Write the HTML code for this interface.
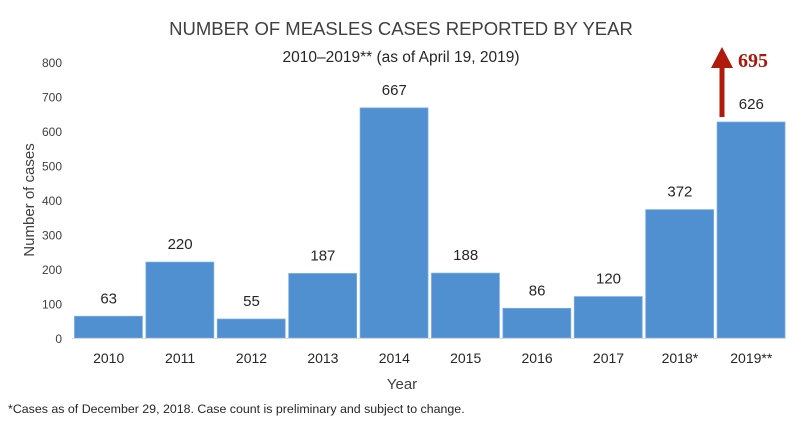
<!DOCTYPE html>
<html><head><meta charset="utf-8"><style>
body{margin:0;background:#fff;}
svg text{font-family:"Liberation Sans",sans-serif;}
</style></head><body>
<svg id="chart" width="802" height="421" viewBox="0 0 802 421" xmlns="http://www.w3.org/2000/svg">
<text x="401" y="35" text-anchor="middle" font-size="18.5" fill="#404040">NUMBER OF MEASLES CASES REPORTED BY YEAR</text>
<text x="401" y="62" text-anchor="middle" font-size="15.5" fill="#262626">2010–2019** (as of April 19, 2019)</text>
<text transform="translate(34,200) rotate(-90)" text-anchor="middle" font-size="15" fill="#404040">Number of cases</text>
<text x="402" y="389" text-anchor="middle" font-size="15" fill="#404040">Year</text>
<text x="8" y="413" font-size="12.4" fill="#262626">*Cases as of December 29, 2018. Case count is preliminary and subject to change.</text>
<g id="yticks"></g><g id="bars"></g><g id="xlabels"></g>
<line x1="72" y1="338.5" x2="786" y2="338.5" stroke="#d9d9d9" stroke-width="1"/>
<g>
<line x1="722" y1="117" x2="722" y2="64" stroke="#b01a0c" stroke-width="5"/>
<polygon points="711,68 733,68 722,47" fill="#b01a0c"/>
</g>
<text x="738" y="67" style="font-family:'Liberation Serif',serif;font-weight:bold;font-size:20px" fill="#a8190c">695</text>
</svg>
<script>
const categories=["2010","2011","2012","2013","2014","2015","2016","2017","2018*","2019**"];
const values=[63,220,55,187,667,188,86,120,372,626];
const yTicks=[0,100,200,300,400,500,600,700,800];
const ns="http://www.w3.org/2000/svg";
const x0=72,x1=786,yBase=338,yTop=62,yMax=800;
const slot=(x1-x0)/categories.length;
function y(v){return yBase-(v/yMax)*(yBase-yTop);}
function xb(i){return x0+i*slot;}
function mk(tag,attrs,parent){const e=document.createElementNS(ns,tag);for(const k in attrs)e.setAttribute(k,attrs[k]);document.getElementById(parent).appendChild(e);return e;}
yTicks.forEach(t=>{const e=mk('text',{x:62,y:y(t)+5,'text-anchor':'end','font-size':12,fill:'#404040'},'yticks');e.textContent=t;

});
categories.forEach((c,i)=>{
const r=mk('rect',{x:xb(i)+2.5,y:y(values[i]),width:slot-3.5,height:yBase-y(values[i]),fill:'#5090d1',stroke:'#79abe0','stroke-width':0.8},'bars');


const v=mk('text',{x:xb(i)+slot/2+1,y:y(values[i])-13,'text-anchor':'middle','font-size':15,fill:'#262626'},'bars');v.textContent=values[i];


const l=mk('text',{x:xb(i)+slot/2+1,y:363,'text-anchor':'middle','font-size':14,fill:'#262626'},'xlabels');l.textContent=c;


});
</script>
</body></html>
